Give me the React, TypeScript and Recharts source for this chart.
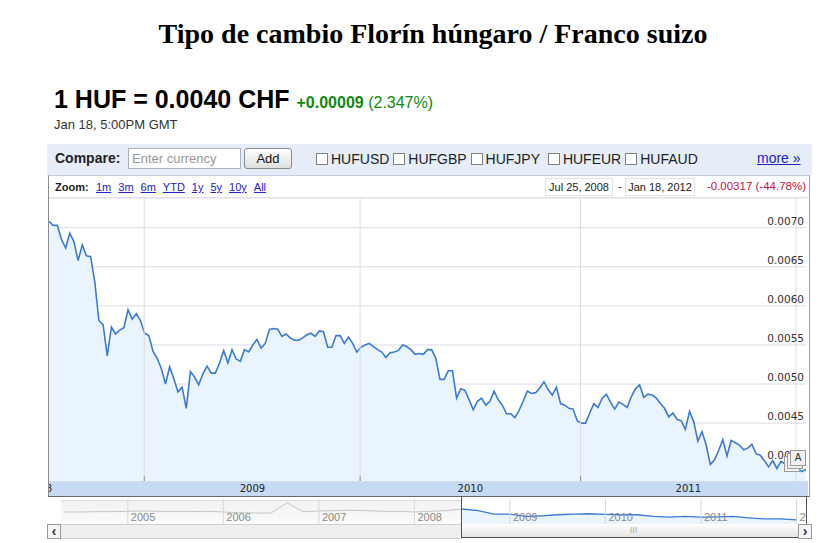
import React from 'react';
import {
  AreaChart,
  Area,
  ComposedChart,
  Line,
  XAxis,
  YAxis,
  CartesianGrid,
  ReferenceLine,
} from 'recharts';

// HUF/CHF weekly closes, Jul 25 2008 -> Jan 18 2012
const weeklyRate = [
  0.00708, 0.00703, 0.00703, 0.00685, 0.00674, 0.00693, 0.00682, 0.00658, 0.00678, 0.00664,
  0.00663, 0.00631, 0.00581, 0.00576, 0.00536, 0.00573, 0.00564, 0.00569, 0.00572, 0.00595,
  0.00583, 0.0059, 0.00581, 0.00565, 0.00562, 0.00542, 0.00533, 0.0052, 0.005, 0.00522,
  0.00507, 0.0049, 0.00496, 0.00469, 0.00516, 0.00509, 0.00499, 0.00513, 0.00523, 0.00514,
  0.00514, 0.00527, 0.00543, 0.00527, 0.00544, 0.00532, 0.00529, 0.00544, 0.00541, 0.0055,
  0.00557, 0.00546, 0.00552, 0.0057, 0.00571, 0.0057, 0.00561, 0.00564, 0.00559, 0.00556,
  0.00556, 0.00559, 0.00563, 0.00565, 0.00561, 0.00568, 0.00567, 0.00547, 0.00547, 0.00562,
  0.00562, 0.00552, 0.0056, 0.00552, 0.00541, 0.00547, 0.0055, 0.00552, 0.00548, 0.00544,
  0.00541, 0.00534, 0.0054, 0.00541, 0.00543, 0.0055, 0.00548, 0.00544, 0.00538, 0.00539,
  0.00538, 0.00544, 0.00544, 0.00533, 0.00506, 0.00506, 0.00517, 0.00517, 0.00482, 0.00494,
  0.00492, 0.0048, 0.00467, 0.00478, 0.00482, 0.00473, 0.00478, 0.00491, 0.0048, 0.00473,
  0.00462, 0.00462, 0.00457, 0.00466, 0.00478, 0.00491, 0.00488, 0.00489, 0.00495, 0.00503,
  0.00493, 0.00486, 0.00496, 0.00475, 0.00473, 0.00469, 0.00468, 0.00453, 0.0045, 0.0045,
  0.00463, 0.00475, 0.0047, 0.00482, 0.00487, 0.00477, 0.00468, 0.00477, 0.00474, 0.0047,
  0.00484, 0.00494, 0.00499, 0.00483, 0.00487, 0.00486, 0.00482, 0.00475, 0.00469, 0.00458,
  0.00463, 0.00455, 0.00453, 0.00442, 0.00465, 0.00452, 0.00427, 0.00439, 0.00422, 0.00397,
  0.00403, 0.00415, 0.00429, 0.00408, 0.00428, 0.00425, 0.00422, 0.00416, 0.00418, 0.00423,
  0.00411, 0.00409, 0.00402, 0.00394, 0.00402, 0.00392, 0.00401, 0.00398, 0.00392, 0.00396,
  0.00392, 0.00388, 0.00391,
];

// week index of Jan 1 for 2009..2012
const yearStarts = [22.9, 74.8, 127.8, 179.6];
// labels sit in the middle of each (visible) year
const yearLabelWeeks = [-2.3, 48.9, 101.3, 153.7];
const yearLabels = ['2008', '2009', '2010', '2011'];
const priceTicks = [0.004, 0.0045, 0.005, 0.0055, 0.006, 0.0065, 0.007];

const compareSymbols = ['HUFUSD', 'HUFGBP', 'HUFJPY', 'HUFEUR', 'HUFAUD'];
const zoomLinks = ['1m', '3m', '6m', 'YTD', '1y', '5y', '10y', 'All'];

// navigator: two-month steps starting May 2004
const navHistory = [
  0.0062, 0.0062, 0.0063, 0.0063, 0.0064, 0.0065, 0.0064, 0.0064, 0.0063, 0.0064,
  0.0062, 0.006, 0.0059, 0.0059, 0.0089, 0.0063, 0.0065, 0.0066, 0.0067, 0.0066,
  0.0064, 0.0064, 0.0062, 0.0064, 0.0066, 0.00708,
];
const navSelected = [
  0.00708, 0.0066, 0.0056, 0.0056, 0.0049, 0.0051, 0.0054, 0.0056, 0.0057, 0.0055,
  0.0054, 0.0054, 0.0049, 0.0047, 0.0049, 0.0047, 0.0048, 0.0049, 0.0045, 0.0042,
  0.0042, 0.0039,
];
const navYearStarts = [4, 10, 16, 22, 28, 34, 40, 46];
const navYearLabels = ['2005', '2006', '2007', '2008', '2009', '2010', '2011', '2012'];

const PLOT_W = 757;
const PLOT_H = 283;
const NAV_W = 745;
const NAV_H = 25;

const mainData = weeklyRate.map((v, i) => ({ i, v }));
const selStart = navHistory.length - 1;
const navData = Array.from({ length: selStart + navSelected.length }, (_, n) => ({
  n,
  hist: n <= selStart ? navHistory[n] : null,
  sel: n >= selStart ? navSelected[n - selStart] : null,
}));

const SANS = 'Liberation Sans, Arial, sans-serif';
const VERD = 'DejaVu Sans, Verdana, sans-serif';

const abs = (left: number, top: number, extra: React.CSSProperties = {}): React.CSSProperties => ({
  position: 'absolute',
  left,
  top,
  ...extra,
});

function PriceTick(props: any) {
  const { y, payload } = props;
  return (
    <text x={PLOT_W - 2} y={y - 3} textAnchor="end" fontSize={10.5} fontFamily={VERD} fill="#333">
      {payload.value.toFixed(4)}
    </text>
  );
}

function YearTick(props: any) {
  const { x, index } = props;
  return (
    <text x={x} y={PLOT_H + 11} textAnchor="middle" fontSize={10} fontFamily={VERD} fill="#222">
      {yearLabels[index]}
    </text>
  );
}

function NavTick(props: any) {
  const { x, index } = props;
  return (
    <g>
      <line x1={x} x2={x} y1={0} y2={NAV_H} stroke="#d8d8d8" />
      <text x={x + 3} y={NAV_H - 3} fontSize={11} fontFamily={SANS} fill="#8a8a8a">
        {navYearLabels[index]}
      </text>
    </g>
  );
}

export default function App() {
  return (
    <div style={abs(0, 0, { width: 840, height: 543, background: '#fff', overflow: 'hidden' })}>
      {/* title */}
      <div
        style={abs(0, 20, {
          width: 866,
          textAlign: 'center',
          fontFamily: 'Liberation Serif, Times New Roman, serif',
          fontWeight: 'bold',
          fontSize: 28,
          lineHeight: '28px',
          whiteSpace: 'nowrap',
          color: '#000',
        })}
      >
        Tipo de cambio Florín húngaro / Franco suizo
      </div>

      {/* quote header */}
      <div style={abs(54, 87, { fontFamily: SANS, lineHeight: '24px', whiteSpace: 'nowrap' })}>
        <span style={{ fontSize: 25, fontWeight: 'bold', color: '#000' }}>1 HUF = 0.0040 CHF</span>
        <span style={{ fontSize: 16, fontWeight: 'bold', color: '#118811', marginLeft: 7 }}>+0.00009</span>
        <span style={{ fontSize: 16, color: '#118811' }}> (2.347%)</span>
      </div>
      <div style={abs(54, 117, { fontFamily: SANS, fontSize: 13, color: '#333', whiteSpace: 'nowrap' })}>
        Jan 18, 5:00PM GMT
      </div>

      {/* compare bar */}
      <div style={abs(47, 144, { width: 765, height: 31, background: '#e6edf8' })} />
      <div style={abs(55, 150, { fontFamily: SANS, fontSize: 14, fontWeight: 'bold', color: '#222' })}>
        Compare:
      </div>
      <div
        style={abs(128, 148, {
          width: 108,
          height: 19,
          background: '#fff',
          border: '1px solid #a9b3c2',
          fontFamily: SANS,
          fontSize: 13,
          color: '#999',
          lineHeight: '19px',
          paddingLeft: 3,
          boxSizing: 'content-box',
        })}
      >
        Enter currency
      </div>
      <div
        style={abs(244, 148, {
          width: 46,
          height: 19,
          border: '1px solid #8a8a8a',
          borderRadius: 3,
          background: 'linear-gradient(#ffffff, #dedede)',
          fontFamily: SANS,
          fontSize: 13,
          color: '#111',
          textAlign: 'center',
          lineHeight: '19px',
        })}
      >
        Add
      </div>
      {compareSymbols.map((s, k) => (
        <div key={s} style={abs(316 + k * 77.3, 151, { display: 'flex', alignItems: 'center' })}>
          <div style={{ width: 10, height: 10, border: '1px solid #808080', background: '#fff', marginRight: 3 }} />
          <span style={{ fontFamily: SANS, fontSize: 14, color: '#222' }}>{s}</span>
        </div>
      ))}
      <div
        style={abs(757, 150, {
          fontFamily: SANS,
          fontSize: 14,
          color: '#2323c8',
          textDecoration: 'underline',
        })}
      >
        more »
      </div>

      {/* chart panel */}
      <div
        style={abs(48, 175, {
          width: 760,
          height: 320,
          background: '#fff',
          borderTop: '1px solid #c3cddd',
          borderLeft: '1px solid #8c8c8c',
          borderRight: '1px solid #9a9a9a',
          borderBottom: '1px solid #666',
        })}
      />
      <div style={abs(49, 197, { width: 760, height: 1, background: '#e2e2e2' })} />

      {/* zoom row */}
      <div style={abs(55, 181, { fontFamily: SANS, fontSize: 11, fontWeight: 'bold', color: '#222' })}>Zoom:</div>
      <div style={abs(96, 181, { display: 'flex', fontFamily: SANS, fontSize: 11 })}>
        {zoomLinks.map((z) => (
          <span key={z} style={{ color: '#2323c8', textDecoration: 'underline', marginRight: 7 }}>
            {z}
          </span>
        ))}
      </div>
      <div
        style={abs(545, 178, {
          width: 66,
          height: 16,
          border: '1px solid #e4e4e4',
          fontFamily: SANS,
          fontSize: 11,
          color: '#222',
          textAlign: 'center',
          lineHeight: '16px',
        })}
      >
        Jul 25, 2008
      </div>
      <div style={abs(618, 180, { fontFamily: SANS, fontSize: 11, color: '#222' })}>-</div>
      <div
        style={abs(625, 178, {
          width: 68,
          height: 16,
          border: '1px solid #e4e4e4',
          fontFamily: SANS,
          fontSize: 11,
          color: '#222',
          textAlign: 'center',
          lineHeight: '16px',
        })}
      >
        Jan 18, 2012
      </div>
      <div style={abs(699, 180, { width: 107, textAlign: 'right', fontFamily: SANS, fontSize: 11.5, color: '#cc1144', whiteSpace: 'nowrap' })}>
        -0.00317 (-44.78%)
      </div>

      {/* x axis band */}
      <div style={abs(49, 481, { width: 759, height: 15, background: '#c6daf3' })} />

      {/* main chart */}
      <div style={abs(49, 198)}>
        <AreaChart width={PLOT_W} height={PLOT_H + 15} data={mainData} margin={{ top: 0, right: 0, bottom: 0, left: 0 }}>
          <CartesianGrid vertical={false} stroke="#dcdde9" />
          <XAxis
            dataKey="i"
            type="number"
            domain={[0, 182]}
            ticks={yearLabelWeeks}
            interval={0}
            allowDataOverflow
            axisLine={false}
            tickLine={false}
            height={15}
            tick={<YearTick />}
          />
          <YAxis
            orientation="right"
            mirror
            type="number"
            domain={[0.00376, 0.00738]}
            ticks={priceTicks}
            axisLine={false}
            tickLine={false}
            tick={<PriceTick />}
          />
          {yearStarts.map((w) => (
            <ReferenceLine key={w} x={w} stroke="#dedede" />
          ))}
          {yearStarts.slice(0, 3).map((w) => (
            <ReferenceLine
              key={'t' + w}
              segment={[
                { x: w, y: 0.00376 },
                { x: w, y: 0.00382 },
              ]}
              stroke="#8a8a8a"
            />
          ))}
          <Area
            type="linear"
            dataKey="v"
            stroke="#3a7bd5"
            strokeWidth={1.6}
            fill="#e9f4fe"
            fillOpacity={1}
            dot={false}
            activeDot={false}
            isAnimationActive={false}
          />
        </AreaChart>
      </div>

      {/* news flags */}
      {[0, 1, 2].map((k) => (
        <div
          key={k}
          style={abs(784 + k * 3, 456 - k * 3, {
            width: 14,
            height: 14,
            border: '1px solid #9a9a9a',
            background: '#f2f2f2',
            fontFamily: SANS,
            fontSize: 10,
            lineHeight: '14px',
            textAlign: 'center',
            color: '#333',
          })}
        >
          {k === 2 ? 'A' : ''}
        </div>
      ))}

      {/* navigator */}
      <div
        style={abs(61, 500, {
          width: 401,
          height: 24,
          background: 'linear-gradient(#f2f2f2, #fbfbfb)',
          borderTop: '1px solid #dcdcdc',
        })}
      />
      <div style={abs(61, 524, { width: 401, height: 13, background: '#efefef', borderTop: '1px solid #cfcfcf', borderBottom: '1px solid #cfcfcf' })} />
      <div style={abs(61, 499)}>
        <ComposedChart width={NAV_W} height={NAV_H + 1} data={navData} margin={{ top: 0, right: 0, bottom: 0, left: 0 }}>
          <XAxis
            dataKey="n"
            type="number"
            domain={[-0.2, 46.6]}
            ticks={navYearStarts}
            interval={0}
            height={1}
            axisLine={false}
            tickLine={false}
            tick={<NavTick />}
          />
          <YAxis hide type="number" domain={[0.0027, 0.01]} />
          <Area
            type="linear"
            dataKey="sel"
            stroke="#3a7bd5"
            strokeWidth={1.3}
            fill="#e9f4fe"
            fillOpacity={1}
            dot={false}
            activeDot={false}
            isAnimationActive={false}
          />
          <Line
            type="linear"
            dataKey="hist"
            stroke="#c4c4c4"
            strokeWidth={1}
            dot={false}
            activeDot={false}
            isAnimationActive={false}
          />
        </ComposedChart>
      </div>
      {/* selection window + scrollbar */}
      <div
        style={abs(462, 524, {
          width: 343,
          height: 13,
          background: 'linear-gradient(#ffffff, #e4e4e4)',
          textAlign: 'center',
          fontFamily: SANS,
          fontSize: 9,
          lineHeight: '13px',
          color: '#aaa',
        })}
      >
        III
      </div>
      <div
        style={abs(461, 496, {
          width: 344,
          height: 41,
          borderLeft: '1px solid #555',
          borderRight: '1px solid #555',
          borderBottom: '1px solid #555',
        })}
      />
      <div
        style={abs(47, 524, {
          width: 12,
          height: 13,
          border: '1px solid #9a9a9a',
          background: '#f4f4f4',
          fontFamily: SANS,
          fontSize: 14,
          fontWeight: 'bold',
          lineHeight: '12px',
          textAlign: 'center',
          color: '#333',
        })}
      >
        ‹
      </div>
      <div
        style={abs(798, 524, {
          width: 12,
          height: 13,
          border: '1px solid #9a9a9a',
          background: '#f4f4f4',
          fontFamily: SANS,
          fontSize: 14,
          fontWeight: 'bold',
          lineHeight: '12px',
          textAlign: 'center',
          color: '#333',
        })}
      >
        ›
      </div>
    </div>
  );
}
